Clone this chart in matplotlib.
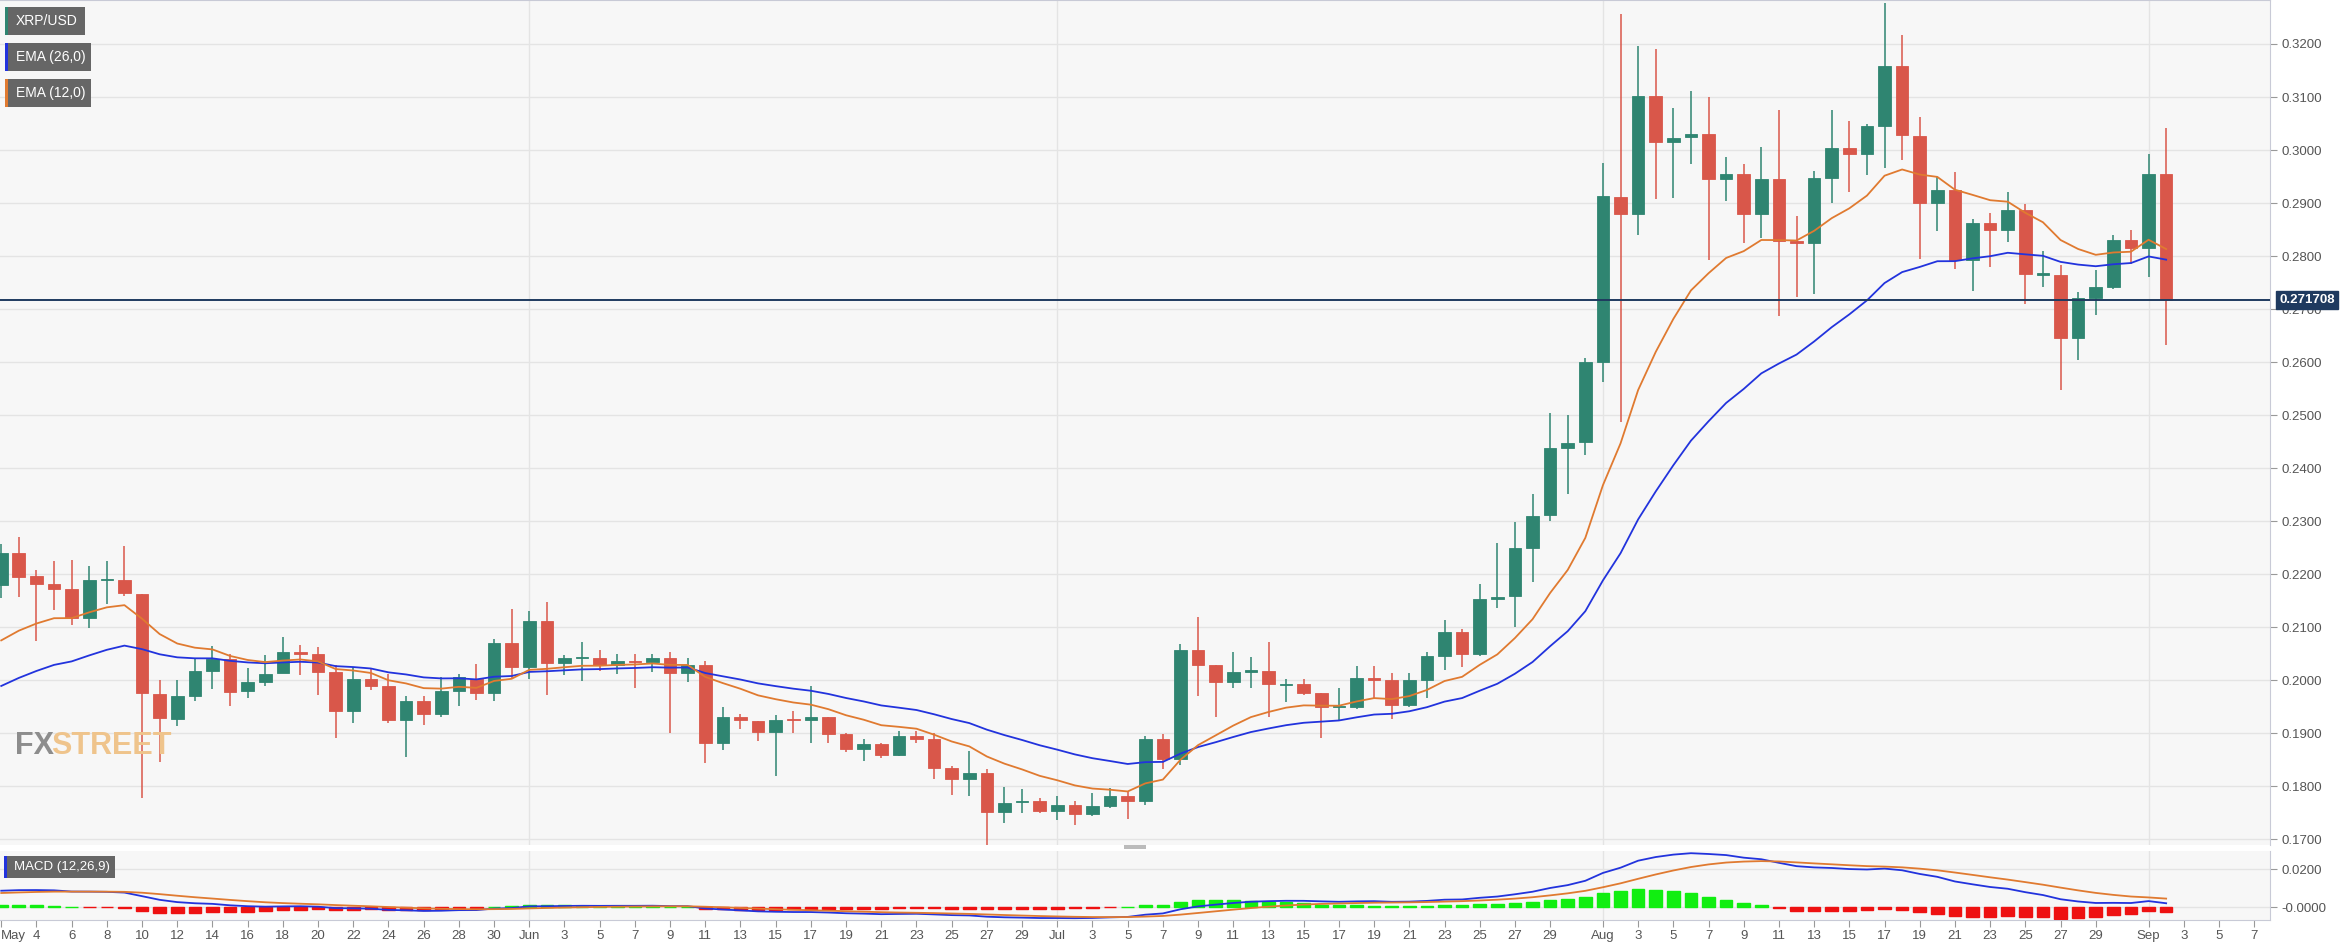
import matplotlib
matplotlib.use("Agg")
import matplotlib.pyplot as plt
from matplotlib.patches import Rectangle
import numpy as np

# day index: 0 = May 1
days = list(range(1, 125))
opens = [.2180, .2239, .2196, .2181, .2172, .2118, .2188, .2188, .2162, .1973,
         .1927, .1971, .2018, .2040, .1980, .1996, .2013, .2053, .2049, .2015,
         .1942, .2003, .1988, .1924, .1960, .1936, .1979, .2003, .1975, .2070,
         .2025, .2112, .2032, .2042, .2042, .2028, .2035, .2035, .2042, .2014,
         .2029, .1882, .1930, .1923, .1903, .1925, .1924, .1930, .1898, .1871,
         .1879, .1858, .1895, .1889, .1834, .1814, .1825, .1751, .1770, .1772,
         .1753, .1765, .1748, .1763, .1781, .1772, .1889, .1852, .2056, .2029,
         .1997, .2016, .2018, .1990, .1993, .1976, .1949, .1949, .2004, .2001,
         .1954, .2001, .2045, .2091, .2050, .2153, .2159, .2250, .2312, .2438,
         .2449, .2601, .2912, .2880, .3101, .3015, .3024, .3030, .2946, .2955,
         .2880, .2946, .2829, .2825, .2948, .3003, .2992, .3046, .3158, .3027,
         .2901, .2925, .2792, .2862, .2850, .2887, .2765, .2765, .2646, .2720,
         .2742, .2831, .2816, .2954]
highs = [.2256, .2270, .2208, .2224, .2227, .2215, .2224, .2253, .2162, .2001,
         .2001, .2041, .2065, .2050, .2022, .2047, .2082, .2066, .2063, .2028,
         .2025, .2022, .2011, .1971, .1971, .2006, .2012, .2031, .2078, .2135,
         .2130, .2148, .2048, .2072, .2056, .2050, .2049, .2050, .2054, .2041,
         .2037, .1949, .1936, .1923, .1934, .1941, .1989, .1930, .1900, .1889,
         .1882, .1904, .1904, .1900, .1838, .1866, .1832, .1799, .1794, .1778,
         .1782, .1772, .1787, .1797, .1790, .1895, .1898, .2069, .2120, .2029,
         .2054, .2043, .2072, .2003, .2002, .1976, .1985, .2027, .2027, .2013,
         .2014, .2054, .2113, .2096, .2182, .2258, .2298, .2352, .2504, .2501,
         .2608, .2976, .3256, .3197, .3190, .3080, .3112, .3100, .2987, .2974,
         .3006, .3075, .2875, .2960, .3076, .3055, .3050, .3277, .3217, .3062,
         .2949, .2958, .2870, .2882, .2920, .2898, .2810, .2783, .2733, .2773,
         .2840, .2849, .2993, .3042]
lows = [.2154, .2156, .2073, .2132, .2104, .2099, .2144, .2158, .1778, .1846,
        .1914, .1960, .1984, .1951, .1966, .1989, .2013, .2009, .1972, .1890,
        .1920, .1982, .1920, .1855, .1916, .1930, .1951, .1963, .1961, .2003,
        .2003, .1972, .2009, .1999, .2018, .2011, .1985, .2015, .1900, .1996,
        .1844, .1868, .1908, .1885, .1820, .1900, .1882, .1882, .1865, .1847,
        .1854, .1856, .1882, .1814, .1784, .1782, .1689, .1730, .1749, .1749,
        .1737, .1727, .1743, .1759, .1738, .1765, .1832, .1839, .1971, .1931,
        .1986, .1985, .1931, .1958, .1972, .1890, .1922, .1945, .1964, .1927,
        .1950, .1967, .2020, .2024, .2046, .2136, .2100, .2186, .2300, .2352,
        .2424, .2562, .2487, .2839, .2907, .2909, .2973, .2793, .2903, .2825,
        .2834, .2686, .2723, .2729, .2900, .2921, .2953, .2967, .2982, .2794,
        .2848, .2775, .2734, .2780, .2826, .2710, .2742, .2548, .2603, .2689,
        .2738, .2785, .2761, .2633]
closes = [.2239, .2194, .2181, .2172, .2118, .2188, .2189, .2164, .1975, .1928,
          .1971, .2018, .2040, .1978, .1996, .2012, .2053, .2050, .2015, .1942,
          .2003, .1988, .1924, .1961, .1936, .1979, .2006, .1975, .2070, .2025,
          .2112, .2032, .2041, .2042, .2028, .2037, .2034, .2042, .2014, .2028,
          .1882, .1930, .1925, .1903, .1924, .1924, .1931, .1898, .1871, .1879,
          .1858, .1895, .1889, .1835, .1814, .1824, .1751, .1768, .1772, .1753,
          .1765, .1748, .1763, .1781, .1772, .1889, .1852, .2056, .2029, .1997,
          .2016, .2018, .1993, .1993, .1976, .1949, .1951, .2004, .2001, .1954,
          .2001, .2045, .2091, .2050, .2153, .2157, .2249, .2310, .2437, .2447,
          .2601, .2914, .2880, .3101, .3015, .3023, .3031, .2946, .2955, .2880,
          .2946, .2829, .2825, .2948, .3003, .2992, .3046, .3158, .3028, .2901,
          .2925, .2792, .2862, .2850, .2887, .2766, .2766, .2646, .2720, .2742,
          .2831, .2816, .2955, .2717]

# indicator values read at the first visible day (longer history is cut off)
ema12_start = 0.2075
ema26_start = 0.1989
signal_start = 0.0074
last_price = 0.271708

tick_days = [1] + list(range(3, 30, 2)) + [31] + list(range(33, 60, 2)) + [61] + \
    list(range(63, 90, 2)) + [92] + list(range(94, 121, 2)) + [123, 125, 127, 129]
tick_labels = ["May"] + [str(i) for i in range(4, 31, 2)] + ["Jun"] + \
    [str(i) for i in range(3, 30, 2)] + ["Jul"] + [str(i) for i in range(3, 30, 2)] + \
    ["Aug"] + [str(i) for i in range(3, 30, 2)] + ["Sep", "3", "5", "7"]
month_days = [31, 61, 92, 123]
price_ticks = [0.17 + 0.01 * i for i in range(16)]


def ema(values, span, start):
    a = 2.0 / (span + 1)
    out = [start]
    for v in values[1:]:
        out.append(a * v + (1 - a) * out[-1])
    return np.array(out)


ema12 = ema(closes, 12, ema12_start)
ema26 = ema(closes, 26, ema26_start)
macd = ema12 - ema26
signal = ema(list(macd), 9, signal_start)
hist = macd - signal

W, H = 2347, 946
fig = plt.figure(figsize=(W / 100, H / 100), dpi=100)
fig.patch.set_facecolor("white")
narrow = ["Liberation Sans Narrow", "Liberation Sans", "DejaVu Sans"]

GREEN = "#2f8571"
RED = "#d9574a"
BG = "#f7f7f7"
GRID = "#e4e4e4"

ax = fig.add_axes([0, 1 - 845 / H, 2270 / W, 845 / H])
ax.set_facecolor(BG)
xlim = (0.93, 129.9)
ax.set_xlim(*xlim)
ax.set_ylim(0.1689, 0.3283)

for d, o, h, l, c in zip(days, opens, highs, lows, closes):
    col = GREEN if c >= o else RED
    ax.vlines(d, l, h, color=col, lw=1.1, zorder=3)
    bot, top = min(o, c), max(o, c)
    ax.add_patch(Rectangle((d - 0.36, bot), 0.72, max(top - bot, 0.00025),
                           facecolor=col, edgecolor=col, lw=0.6, zorder=4))

ax.plot(days, ema26, color="#2233dd", lw=1.3, zorder=5)
ax.plot(days, ema12, color="#e07a30", lw=1.3, zorder=5)
ax.axhline(last_price, color="#1f3a5f", lw=1.4, zorder=6)

ax.set_yticks(price_ticks)
ax.yaxis.tick_right()
ax.set_yticklabels([f"{t:.4f}" for t in price_ticks], fontsize=9.5, color="#555555",
                   family=narrow)
ax.tick_params(axis="y", length=5, color="#999999", pad=3)
ax.set_xticks(month_days)
ax.tick_params(axis="x", length=0, labelbottom=False)
ax.grid(True, color=GRID, lw=1)
for s in ["left", "bottom"]:
    ax.spines[s].set_visible(False)
ax.spines["right"].set_color("#c8cad6")
ax.spines["top"].set_color("#c8cad6")

ax.text(1.004, (last_price - 0.1689) / (0.3283 - 0.1689), f"{last_price:.6f}",
        transform=ax.transAxes, ha="left", va="center", fontsize=9.5, color="white",
        fontweight="bold", family=narrow, zorder=10,
        bbox=dict(boxstyle="square,pad=0.25", fc="#1f3a5f", ec="#1f3a5f"))

# watermark
ax.text(0.0065, 0.1, "FX", transform=ax.transAxes, fontsize=22, fontweight="bold",
        color="#8d8d8d", family=narrow, va="bottom")
ax.text(0.0225, 0.1, "STREET", transform=ax.transAxes, fontsize=22, fontweight="bold",
        color="#efc48c", family=narrow, va="bottom")

# legend boxes
for (y0, w, label, col) in [(7, 80, "XRP/USD", GREEN), (43, 86, "EMA (26,0)", "#2233dd"),
                            (79, 86, "EMA (12,0)", "#e07a30")]:
    fig.patches.append(Rectangle((5 / W, 1 - (y0 + 28) / H), w / W, 28 / H,
                                 transform=fig.transFigure, fc="#666666", ec="none"))
    fig.patches.append(Rectangle((5 / W, 1 - (y0 + 28) / H), 3 / W, 28 / H,
                                 transform=fig.transFigure, fc=col, ec="none"))
    fig.text(16 / W, 1 - (y0 + 14) / H, label, color="white", fontsize=10,
             family=narrow, va="center")

# MACD panel
mx = fig.add_axes([0, 1 - 920 / H, 2270 / W, 69 / H])
mx.set_facecolor(BG)
mx.set_xlim(*xlim)
mx.set_ylim(-0.0068, 0.0295)
hcols = ["#11ee11" if v >= 0 else "#ee1111" for v in hist]
mx.bar(days, hist, width=0.72, color=hcols, edgecolor=hcols, lw=1, zorder=3)
mx.plot(days, macd, color="#2233dd", lw=1.3, zorder=4)
mx.plot(days, signal, color="#e07a30", lw=1.3, zorder=4)
mx.set_yticks([0.0, 0.02])
mx.yaxis.tick_right()
mx.set_yticklabels(["-0.0000", "0.0200"], fontsize=9.5, color="#555555", family=narrow)
mx.tick_params(axis="y", length=5, color="#999999", pad=3)
mx.set_xticks(tick_days)
mx.set_xticklabels(tick_labels, fontsize=9.5, color="#555555", family=narrow)
mx.get_xticklabels()[0].set_ha("left")
mx.tick_params(axis="x", length=5, color="#999999", pad=2)
mx.grid(True, axis="y", color=GRID, lw=1)
for d in month_days:
    mx.axvline(d, color=GRID, lw=1, zorder=0)
for s in ["left", "top"]:
    mx.spines[s].set_visible(False)
mx.spines["right"].set_color("#c8cad6")
mx.spines["bottom"].set_color("#c8cad6")

fig.patches.append(Rectangle((4 / W, 1 - 878 / H), 111 / W, 22 / H,
                             transform=fig.transFigure, fc="#666666", ec="none"))
fig.patches.append(Rectangle((4 / W, 1 - 878 / H), 3 / W, 22 / H,
                             transform=fig.transFigure, fc="#2233dd", ec="none"))
fig.text(14 / W, 1 - 867 / H, "MACD (12,26,9)", color="white", fontsize=9.5,
         family=narrow, va="center")

# panel separator handle
fig.patches.append(Rectangle((1124 / W, 1 - 849 / H), 22 / W, 4 / H,
                             transform=fig.transFigure, fc="#bbbbbb", ec="none"))

fig.savefig("out.png", dpi=100, facecolor="white")
